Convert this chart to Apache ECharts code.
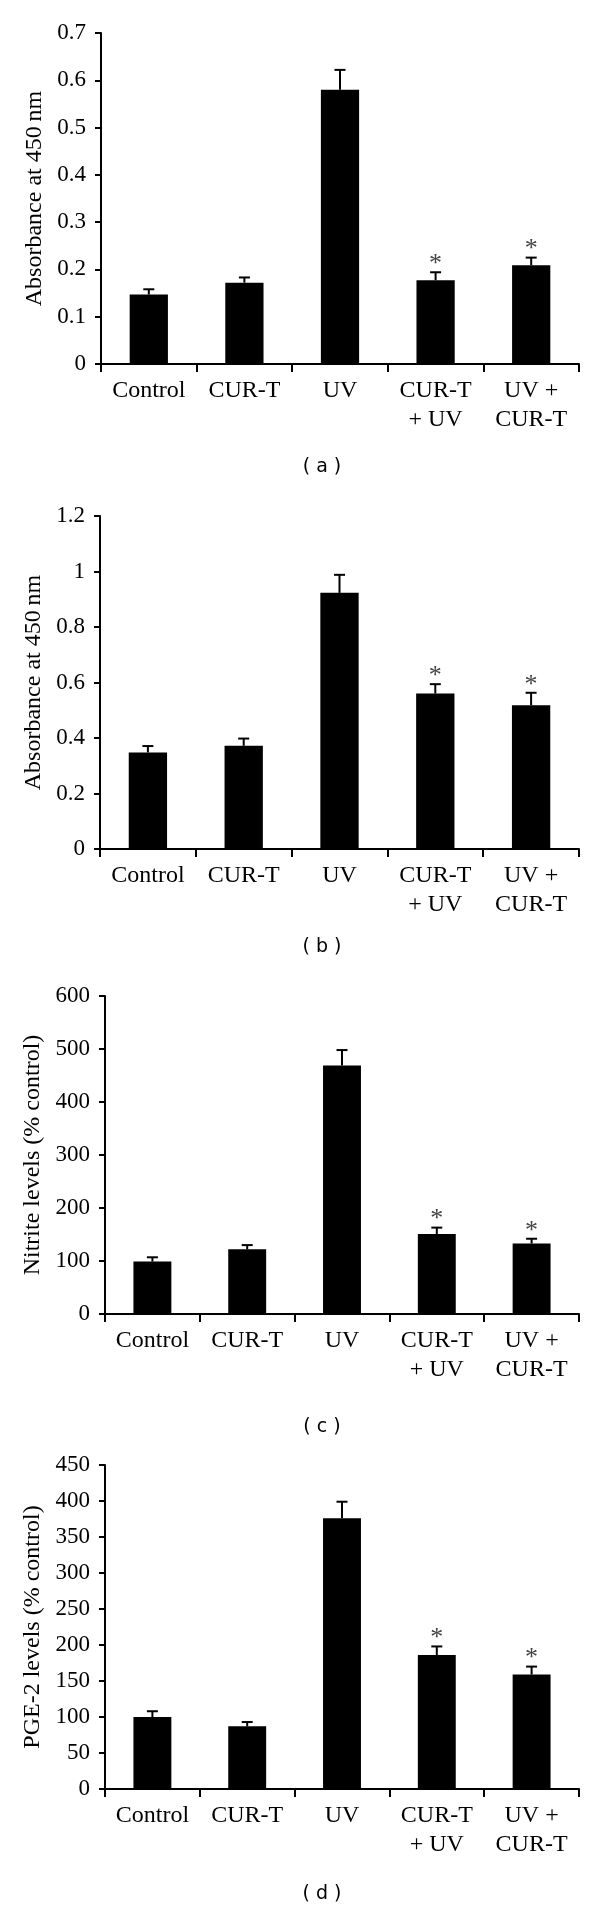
<!DOCTYPE html>
<html>
<head>
<meta charset="utf-8">
<script src="https://cdn.jsdelivr.net/npm/echarts@6/dist/echarts.min.js"></script>
<style>
html,body{margin:0;padding:0;background:#fff;}
#chart{width:600px;height:1909px;}
</style>
</head>
<body>
<div id="chart"></div>
<script>
// Categories (shared by all panels)
var categories = ['Control', 'CUR-T', 'UV', 'CUR-T\n+ UV', 'UV +\nCUR-T'];
var significant = [0, 0, 0, 1, 1];

// Panel (a) Absorbance at 450 nm
var meanA = [0.147, 0.172, 0.580, 0.177, 0.209];
var errA  = [0.011, 0.011, 0.042, 0.017, 0.016];
// Panel (b) Absorbance at 450 nm
var meanB = [0.348, 0.372, 0.923, 0.560, 0.518];
var errB  = [0.023, 0.026, 0.065, 0.034, 0.045];
// Panel (c) Nitrite levels (% control)
var meanC = [99, 122, 469, 151, 133];
var errC  = [8, 8, 29, 12, 9];
// Panel (d) PGE-2 levels (% control)
var meanD = [100, 87, 376, 186, 159];
var errD  = [8, 6, 23, 12, 11];

var axisNames = ['Absorbance at 450\u2009nm', 'Absorbance at 450\u2009nm', 'Nitrite levels (% control)', 'PGE-2 levels (% control)'];
var yMax = [0.7, 1.2, 600, 450];
var yInterval = [0.1, 0.2, 100, 50];
var captions = ['( a )', '( b )', '( c )', '( d )'];

var grids = [
  {left: 101, top: 33, width: 478, height: 331},
  {left: 100, top: 516, width: 479, height: 333},
  {left: 105, top: 996, width: 474, height: 318},
  {left: 105, top: 1465, width: 474, height: 324}
];
var nameGaps = [51, 51, 55, 55];
var captionY = [467, 947, 1427, 1894];

var means = [meanA, meanB, meanC, meanD];
var errs = [errA, errB, errC, errD];

var serif = 'Liberation Serif';
var option = {
  backgroundColor: '#fff',
  animation: false,
  grid: grids,
  xAxis: [], yAxis: [], series: [],
  graphic: []
};

for (var p = 0; p < 4; p++) {
  option.xAxis.push({
    type: 'category', gridIndex: p, data: categories,
    axisLine: {lineStyle: {color: '#000', width: 2}},
    axisTick: {show: true, length: 8, lineStyle: {color: '#000', width: 2}},
    axisLabel: {color: '#000', fontFamily: serif, fontSize: 24, lineHeight: 29, margin: 12, interval: 0}
  });
  option.yAxis.push({
    type: 'value', gridIndex: p, min: 0, max: yMax[p], interval: yInterval[p],
    name: axisNames[p], nameLocation: 'middle', nameGap: nameGaps[p],
    nameTextStyle: {color: '#000', fontFamily: serif, fontSize: 24},
    splitLine: {show: false},
    axisLine: {show: true, lineStyle: {color: '#000', width: 2}},
    axisTick: {show: true, length: 6, lineStyle: {color: '#000', width: 2}},
    axisLabel: {color: '#000', fontFamily: serif, fontSize: 23, margin: 15}
  });
  option.series.push({
    type: 'bar', xAxisIndex: p, yAxisIndex: p, data: means[p],
    barWidth: '40%',
    itemStyle: {color: '#000'}
  });
  var eData = means[p].map(function (m, i) { return [i, m, m + errs[p][i], significant[i]]; });
  option.series.push({
    type: 'custom', xAxisIndex: p, yAxisIndex: p, data: eData,
    z: 5,
    renderItem: function (params, api) {
      var base = api.coord([api.value(0), api.value(1)]);
      var top = api.coord([api.value(0), api.value(2)]);
      var children = [
        {type: 'line', shape: {x1: base[0], y1: base[1], x2: top[0], y2: top[1]}, style: {stroke: '#000', lineWidth: 2}},
        {type: 'line', shape: {x1: top[0] - 5.5, y1: top[1], x2: top[0] + 5.5, y2: top[1]}, style: {stroke: '#000', lineWidth: 2}}
      ];
      if (api.value(3)) {
        children.push({type: 'text', x: top[0], y: top[1] - 8,
          style: {text: '*', fill: '#444', font: '26px "Liberation Serif"', textAlign: 'center', textVerticalAlign: 'middle', align: 'center', verticalAlign: 'middle'}});
      }
      return {type: 'group', children: children};
    }
  });
  option.graphic.push({
    type: 'text', x: 322, y: captionY[p],
    style: {text: captions[p], fill: '#000', font: '19px "DejaVu Sans"', textAlign: 'center', textVerticalAlign: 'middle', align: 'center', verticalAlign: 'middle'}
  });
}

var chart = echarts.init(document.getElementById('chart'), null, {renderer: 'canvas'});
chart.setOption(option);
</script>
</body>
</html>
